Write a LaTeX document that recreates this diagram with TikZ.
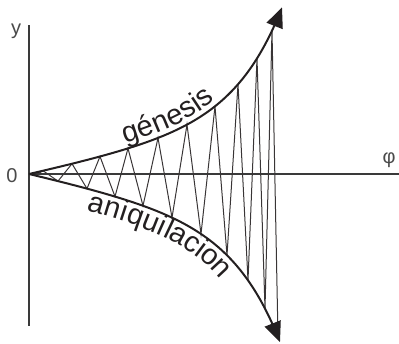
\documentclass[tikz,border=0pt]{standalone}
\usepackage{fontspec}
\setmainfont{Liberation Sans}
\usetikzlibrary{arrows.meta,decorations.text}
\definecolor{ink}{HTML}{231F20}
\definecolor{axisc}{HTML}{3A3A3A}
\definecolor{lblc}{HTML}{4A4A4A}
\begin{document}
\begin{tikzpicture}[x=1pt,y=-1pt,
  declare function={env(\u)=0.22*\u+0.55*(exp(0.021*\u)-1);},
  axisline/.style={line width=2pt, draw=axisc},
  envline/.style={line width=2pt, draw=ink, -{Triangle[length=20pt,width=17pt]}},
  zig/.style={line width=1pt, draw=ink!90, line join=miter},
  lbl/.style={text=lblc, font=\fontsize{20}{20}\selectfont, inner sep=0pt}]
\useasboundingbox (0,0) rectangle (399,344);
\coordinate (O) at (29,174);
\coordinate (ytop) at (29,25);
\coordinate (ybot) at (29,326);
\coordinate (xend) at (399,174);
\draw[axisline] (ybot) -- (ytop);
\draw[axisline] (O) -- (xend);
\draw[zig] (O) \foreach \xx/\ss in {35/1,43/-1,58/1,72/-1,87/1,100/-1,115/1,128/-1,143/1,158/-1,172/1,187/-1,201/1,215/-1,227/1,238/-1,248/1,257/-1,265/1,272/-1,278/1} { -- (\xx,{174+\ss*(1.02+0.02*\ss)*env(\xx-29)}) };
\draw[envline] plot[domain=0:253, samples=90, smooth] ({\x+29},{174-env(\x)});
\draw[envline] plot[domain=0:251, samples=90, smooth] ({\x+29},{174+1.04*env(\x)});
\path[decorate, decoration={text along path, text align=fit to path, raise=5pt, text color=ink,
  text={|\fontsize{29}{29}\selectfont|génesis}}]
  plot[domain=98:189, samples=40] ({\x+29},{174-env(\x)});
\path[decorate, decoration={text along path, text align=fit to path, raise=-21pt, text color=ink,
  text={|\fontsize{29}{29}\selectfont|aniquilacion}}]
  plot[domain=63:207, samples=50] ({\x+29},{174+1.04*env(\x)});
\node[lbl] (ylab) at (16,31) {y};
\node[lbl] (zero) at (12,176) {0};
\node[lbl] (phi) at (389,160) {φ};
\end{tikzpicture}
\end{document}
